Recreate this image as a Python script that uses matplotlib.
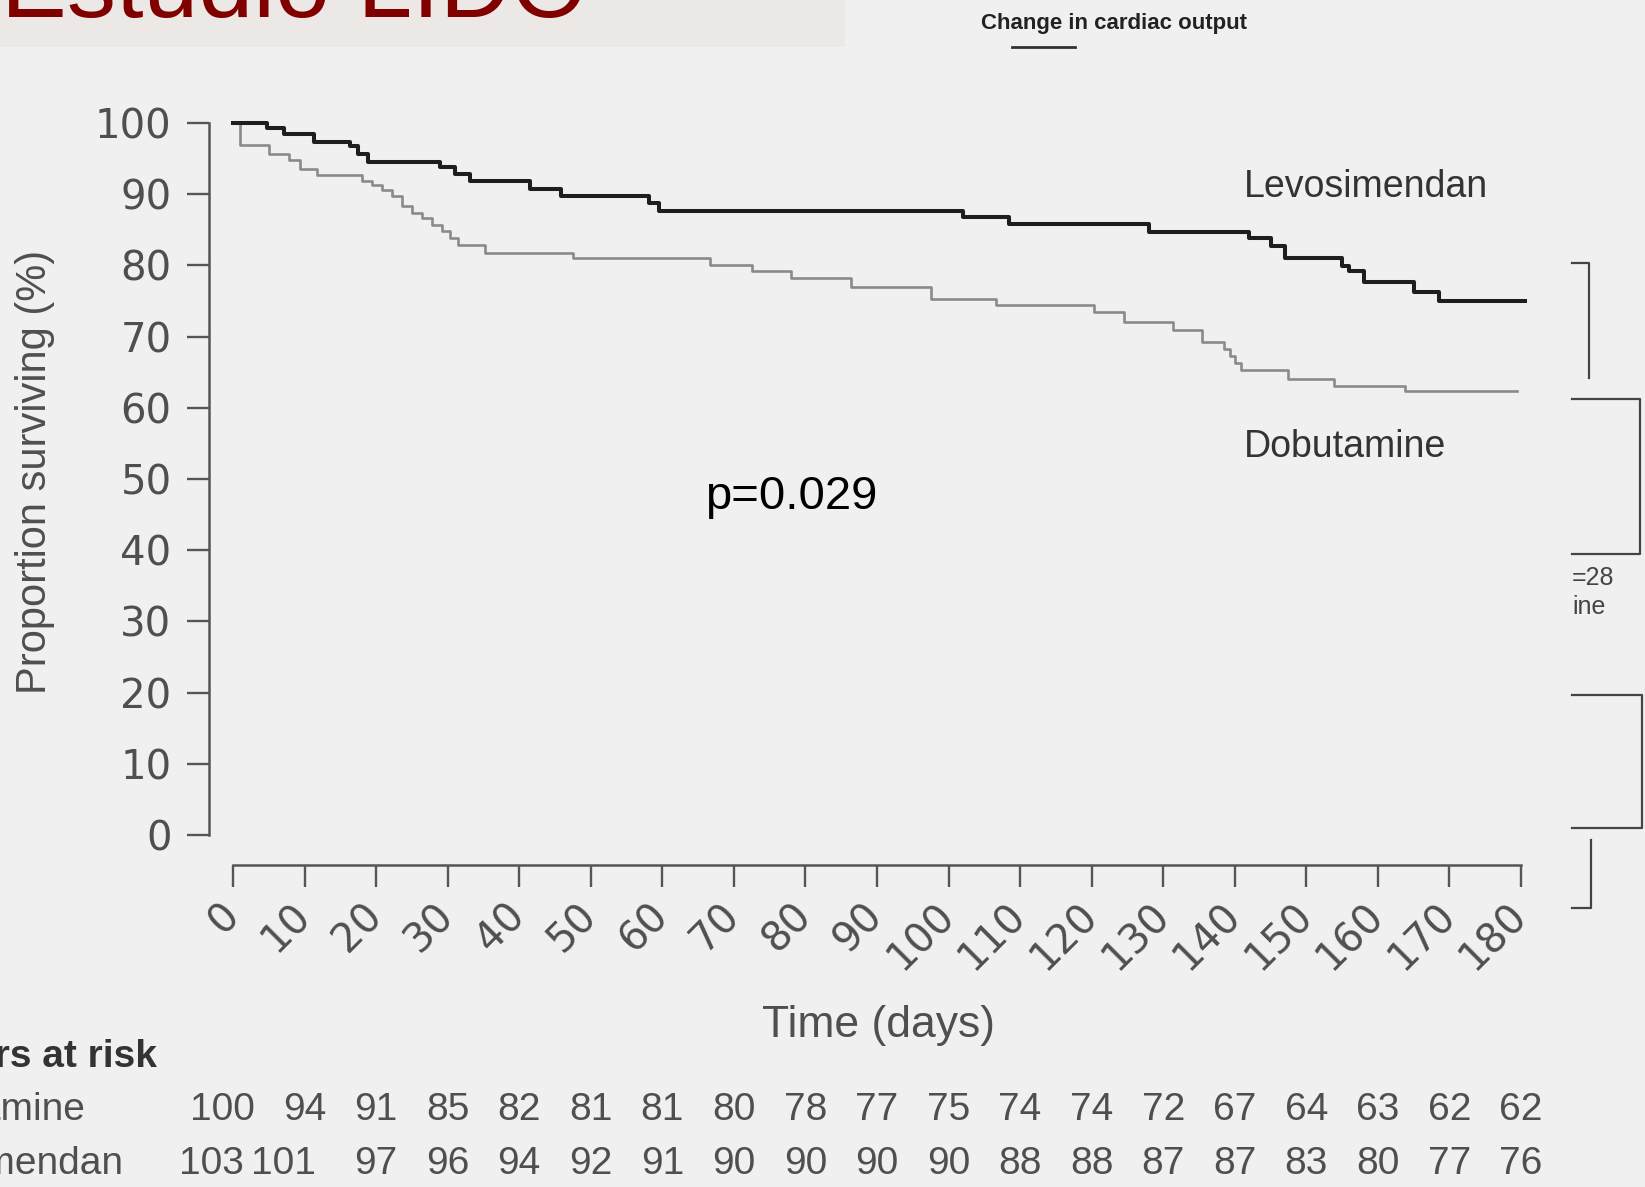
import matplotlib
matplotlib.use("Agg")
import matplotlib.pyplot as plt
import matplotlib.transforms as mtransforms
from matplotlib.patches import Rectangle
from matplotlib.lines import Line2D

W, H = 1645, 1187

# Kaplan-Meier steps (day, % surviving)
LEVO_DAYS = [0, 4.7, 7.1, 11.3, 16.4, 17.5, 18.9, 28.9, 31.0, 33.1, 41.5, 45.9, 58.2, 59.6,
             102.0, 108.5, 128.0, 142.0, 145.0, 147.0, 155.0, 156.0, 158.0, 165.0, 168.5, 180.6]
LEVO_SURV = [100, 99.3, 98.5, 97.4, 96.7, 95.7, 94.5, 93.8, 92.9, 91.9, 90.8, 89.7, 88.8, 87.6,
             86.8, 85.8, 84.7, 83.9, 82.7, 81.0, 79.9, 79.2, 77.7, 76.2, 75.0, 75.0]

DOBU_DAYS = [0, 1.0, 5.0, 7.8, 9.4, 11.7, 18.0, 19.4, 20.8, 22.2, 23.6, 25.0, 26.4, 27.8, 29.2,
             30.3, 31.5, 35.2, 47.5, 66.6, 72.6, 78.0, 86.4, 97.5, 106.6, 120.3, 124.5, 131.3,
             135.4, 138.5, 139.3, 140.0, 140.8, 147.5, 153.8, 163.8, 179.4]
DOBU_SURV = [100, 96.9, 95.7, 94.8, 93.5, 92.7, 91.9, 91.3, 90.6, 89.7, 88.3, 87.4, 86.7, 85.7, 84.8,
             83.9, 82.9, 81.8, 81.1, 80.0, 79.2, 78.3, 77.0, 75.3, 74.5, 73.4, 72.1, 70.9,
             69.3, 68.3, 67.3, 66.3, 65.3, 64.0, 63.0, 62.3, 62.3]

RISK_DAYS = list(range(0, 181, 10))
DOBU_AT_RISK = [100, 94, 91, 85, 82, 81, 81, 80, 78, 77, 75, 74, 74, 72, 67, 64, 63, 62, 62]
LEVO_AT_RISK = [103, 101, 97, 96, 94, 92, 91, 90, 90, 90, 90, 88, 88, 87, 87, 83, 80, 77, 76]
Y_TICKS = list(range(0, 101, 10))

GRAY_TXT = "#4f4f4f"
SANS = ["Liberation Sans", "DejaVu Sans"]
TICKFONT = ["DejaVu Sans"]


def fx(px):
    return px / W


def fy(py):
    return 1 - py / H


fig = plt.figure(figsize=(W / 100, H / 100), dpi=100)
fig.patch.set_facecolor("#f0f0f0")

# slide title strip, cut at the top
fig.add_artist(Rectangle((0, fy(47)), fx(845), 47 / H, transform=fig.transFigure,
                         facecolor="#ece8e5", edgecolor="none", zorder=0))
fig.text(fx(588), fy(17), "Estudio LIDO", ha="right", va="baseline", fontsize=71,
         color="#800000", family=SANS)

fig.text(fx(981), fy(23), "Change in cardiac output", ha="left", va="center", fontsize=16,
         fontweight="bold", color="#222222", family=SANS)
fig.add_artist(Line2D([fx(1012), fx(1075)], [fy(47), fy(47)], transform=fig.transFigure,
                      color="#333333", lw=2))

# main axes, pixel geometry of the scan
X0, X180, YAX = 233, 1521, 209
Y100, Y0, XAX = 123, 835, 865
ppd = (X180 - X0) / 180
ppp = (Y0 - Y100) / 100
ax = fig.add_axes([fx(YAX), fy(XAX), (X180 - YAX) / W, (XAX - Y100) / H])
ax.set_xlim((YAX - X0) / ppd, 180)
ax.set_ylim(-(XAX - Y0) / ppp, 100)
ax.patch.set_alpha(0)

ax.step(DOBU_DAYS, DOBU_SURV, where="post", color="#8a8a8a", lw=1.9, clip_on=False)
ax.step(LEVO_DAYS, LEVO_SURV, where="post", color="#1e1e1e", lw=2.9, clip_on=False)

for s in ["top", "right"]:
    ax.spines[s].set_visible(False)
for s in ["left", "bottom"]:
    ax.spines[s].set_color("#555555")
    ax.spines[s].set_linewidth(1.8)
ax.spines["left"].set_bounds(0, 100)
ax.spines["bottom"].set_bounds(0, 180)

ax.set_yticks(Y_TICKS)
ax.set_xticks(RISK_DAYS)
ax.tick_params(axis="both", direction="out", length=16, width=1.7, color="#555555",
               labelcolor=GRAY_TXT, labelsize=29)
ax.tick_params(axis="y", pad=11)
ax.tick_params(axis="x", pad=16)
for lab in ax.get_yticklabels():
    lab.set_family(TICKFONT)
ax.set_xticklabels([str(d) for d in RISK_DAYS], rotation=45, ha="right", va="center",
                   rotation_mode="anchor", family=TICKFONT)

fig.text(fx(35), fy(472), "Proportion surviving (%)", rotation=90, ha="center", va="center",
         fontsize=30, color=GRAY_TXT, family=SANS)
fig.text(fx(879), fy(1025), "Time (days)", ha="center", va="center", fontsize=32,
         color=GRAY_TXT, family=SANS)

fig.text(fx(1244), fy(187), "Levosimendan", ha="left", va="center", fontsize=27,
         color="#333333", family=SANS)
fig.text(fx(1244), fy(447), "Dobutamine", ha="left", va="center", fontsize=27,
         color="#333333", family=SANS)
fig.text(fx(705), fy(497), "p=0.029", ha="left", va="center", fontsize=34,
         color="black", family=SANS)

# numbers at risk table
blend = mtransforms.blended_transform_factory(ax.transData, fig.transFigure)
fig.text(fx(157), fy(1057), "Numbers at risk", ha="right", va="center", fontsize=28,
         fontweight="bold", color="#333333", family=SANS)
fig.text(fx(86), fy(1110), "Dobutamine", ha="right", va="center", fontsize=28,
         color=GRAY_TXT, family=SANS)
fig.text(fx(124), fy(1164), "Levosimendan", ha="right", va="center", fontsize=28,
         color=GRAY_TXT, family=SANS)
for d, n in zip(RISK_DAYS, DOBU_AT_RISK):
    ax.text(d - (1.5 if n >= 100 else 0), fy(1110), str(n), transform=blend, ha="center",
            va="center", fontsize=28, color=GRAY_TXT, family=SANS, clip_on=False)
for d, n in zip(RISK_DAYS, LEVO_AT_RISK):
    ax.text(d - (3.0 if n >= 100 else 0), fy(1164), str(n), transform=blend, ha="center",
            va="center", fontsize=28, color=GRAY_TXT, family=SANS, clip_on=False)

# brackets of the neighbouring panel, cut at the right edge
BR = "#444444"
segs = [
    ([1572, 1589, 1589], [263, 263, 378]),
    ([1572, 1640, 1640, 1572], [399, 399, 554, 554]),
    ([1572, 1642, 1642, 1572], [695, 695, 828, 828]),
    ([1591, 1591, 1572], [840, 908, 908]),
]
for xs, ys in segs:
    fig.add_artist(Line2D([fx(v) for v in xs], [fy(v) for v in ys], transform=fig.transFigure,
                          color=BR, lw=1.6))
fig.text(fx(1572), fy(578), "=28", ha="left", va="center", fontsize=18, color=BR, family=SANS)
fig.text(fx(1572), fy(607), "ine", ha="left", va="center", fontsize=18, color=BR, family=SANS)

fig.savefig("out.png", dpi=100, facecolor=fig.get_facecolor())
